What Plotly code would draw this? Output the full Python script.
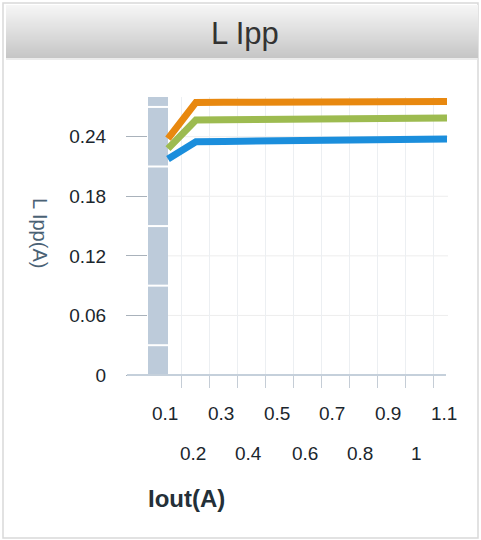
import plotly.graph_objects as go

# ---- data ----
iout = [0.1, 0.2, 0.3, 0.4, 0.5, 0.6, 0.7, 0.8, 0.9, 1.0, 1.1]
series_orange = [0.238, 0.2745, 0.2746, 0.2747, 0.2748, 0.2749, 0.275, 0.2751, 0.2752, 0.2753, 0.2755]
series_green = [0.228, 0.2568, 0.257, 0.2572, 0.2574, 0.2576, 0.2578, 0.258, 0.2582, 0.2585, 0.2588]
series_blue = [0.2176, 0.235, 0.2353, 0.2356, 0.2359, 0.2362, 0.2365, 0.2368, 0.2371, 0.2374, 0.2377]
x_labels = ["0.1", "0.2", "0.3", "0.4", "0.5", "0.6", "0.7", "0.8", "0.9", "1", "1.1"]
x_tick_marks = [0.15, 0.25, 0.35, 0.45, 0.55, 0.65, 0.75, 0.85, 0.95, 1.05]
y_ticks = [0, 0.06, 0.12, 0.18, 0.24]
y_tick_labels = ["0", "0.06", "0.12", "0.18", "0.24"]
band_breaks = [0.03, 0.09, 0.15, 0.21, 0.27]

W, H = 481, 540
L, R, T, B = 148, 448, 97, 375   # plot area in px
pw, ph = R - L, B - T
X0 = 0.1 - 20 / 279.0
X1 = 1.1 + 1 / 279.0

def px(xp):
    return (xp - L) / pw

def py(yp):
    return (B - yp) / ph

fig = go.Figure()
colors = ["#E8880F", "#9DBB50", "#1B8EDC"]
for ys, c in zip([series_orange, series_green, series_blue], colors):
    fig.add_trace(go.Scatter(x=iout, y=ys, mode="lines",
                             line=dict(color=c, width=7), hoverinfo="skip",
                             showlegend=False))

shapes = []
# panel frame
shapes.append(dict(type="rect", xref="paper", yref="paper",
                   x0=px(3), x1=px(478), y0=py(538), y1=py(3),
                   line=dict(color="#d9d9d9", width=1.5), fillcolor="rgba(0,0,0,0)",
                   layer="below"))
# header gradient
top, bot = 5, 58
n = bot - top
for i in range(n):
    t = i / (n - 1)
    v = int(round(246 - (246 - 198) * t))
    shapes.append(dict(type="rect", xref="paper", yref="paper",
                       x0=px(6), x1=px(478), y0=py(top + i + 1.05), y1=py(top + i),
                       line=dict(width=0), fillcolor=f"rgb({v},{v},{v})", layer="below"))
shapes.append(dict(type="line", xref="paper", yref="paper",
                   x0=px(6), x1=px(478), y0=py(59), y1=py(59),
                   line=dict(color="#e6e6e6", width=1.5), layer="below"))
# horizontal grid lines (right of the band)
for yv in y_ticks[1:]:
    shapes.append(dict(type="line", xref="x", yref="y", x0=0.1, x1=X1, y0=yv, y1=yv,
                       line=dict(color="#EDEDED", width=1), layer="below"))
# y band
shapes.append(dict(type="rect", xref="x", yref="y domain", x0=X0, x1=0.1, y0=0, y1=1,
                   fillcolor="#BDCBDA", line=dict(width=0), layer="below"))
for b in band_breaks:
    shapes.append(dict(type="line", xref="x", yref="y", x0=X0, x1=0.1, y0=b, y1=b,
                       line=dict(color="white", width=2), layer="below"))
# x-axis line extension to the left
shapes.append(dict(type="line", xref="paper", yref="paper", x0=px(127), x1=px(446),
                   y0=0, y1=0, line=dict(color="#C5D0DB", width=2), layer="above"))

FONT = "Liberation Sans, Arial"
annotations = []
annotations.append(dict(text="L Ipp", xref="paper", yref="paper", x=px(245), y=py(33),
                        showarrow=False, xanchor="center", yanchor="middle",
                        font=dict(family=FONT, size=31, color="#333333")))
annotations.append(dict(text="L Ipp(A)", xref="paper", yref="paper", x=px(40), y=py(233),
                        showarrow=False, textangle=90, xanchor="center", yanchor="middle",
                        font=dict(family=FONT, size=20, color="#4A6275")))
annotations.append(dict(text="<b>Iout(A)</b>", xref="paper", yref="paper", x=px(186), y=py(498),
                        showarrow=False, xanchor="center", yanchor="middle",
                        font=dict(family=FONT, size=24, color="#243038")))
for i, (xv, lab) in enumerate(zip(iout, x_labels)):
    row_y = 413 if i % 2 == 0 else 453
    annotations.append(dict(text=lab, xref="x", yref="paper", x=xv, y=py(row_y), xshift=-3,
                            showarrow=False, xanchor="center", yanchor="middle",
                            font=dict(family=FONT, size=19, color="#1B262D")))

fig.update_layout(
    width=W, height=H,
    margin=dict(l=L, r=W - R, t=T, b=H - B, pad=0),
    paper_bgcolor="white", plot_bgcolor="white",
    shapes=shapes, annotations=annotations, showlegend=False,
    xaxis=dict(range=[X0, X1], tickvals=x_tick_marks, showticklabels=False,
               ticks="outside", ticklen=12, tickcolor="#C5CDD6", tickwidth=1,
               showgrid=True, gridcolor="#ECEFF2", gridwidth=1,
               showline=False, zeroline=False, fixedrange=True),
    yaxis=dict(range=[0, 0.28], tickvals=y_ticks, ticktext=y_tick_labels,
               ticks="outside", ticklen=21, tickcolor="#A9B2BB", tickwidth=1,
               ticklabelstandoff=16,
               tickfont=dict(family=FONT, size=19, color="#1B262D"),
               showgrid=False, showline=False, zeroline=False, fixedrange=True),
)

fig.write_html("out.html", config={"displayModeBar": False},
               post_script="document.body.style.margin='0';document.body.style.padding='0';")
